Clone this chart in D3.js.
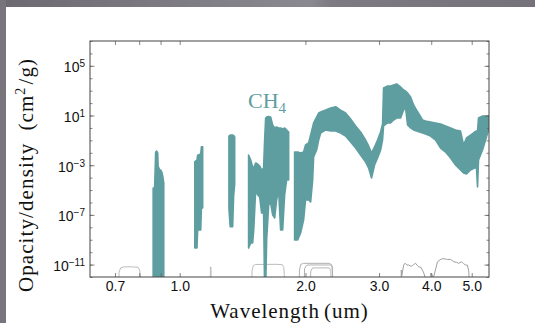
<!DOCTYPE html>
<html>
<head>
<meta charset="utf-8">
<script src="https://cdn.jsdelivr.net/npm/d3@7/dist/d3.min.js"></script>
<style>
  html, body { margin: 0; padding: 0; background: #fff; }
  svg { display: block; }
</style>
</head>
<body>
<svg id="chart" width="535" height="323"></svg>
<script>
// CH4 opacity band: wavelength (um) with upper / lower envelope of log10(opacity, cm^2/g).
// null entries split the spectrum into separate pieces.
const wavelength = [
  0.864, 0.871, 0.876, 0.881, 0.886, 0.888, 0.896, 0.901, 0.906, 0.911, 0.916,
  null,
  1.087, 1.100, 1.104, 1.123, 1.127, 1.135,
  null,
  1.312, 1.321, 1.339, 1.346, 1.354,
  null,
  1.462, 1.479, 1.495, 1.504, 1.520, 1.537, 1.554, 1.571, 1.588, 1.597, 1.606, 1.615,
  1.633, 1.651, 1.669, 1.688, 1.706, 1.725, 1.744, 1.764, 1.783, 1.803, 1.823,
  null,
  1.884, 1.916, 1.947, 1.980, 2.001, 2.035, 2.058, 2.081, 2.092, 2.127, 2.151, 2.175,
  2.236, 2.298, 2.362, 2.428, 2.495, 2.565, 2.637, 2.710, 2.786, 2.833, 2.879, 2.927,
  2.976, 3.026, 3.059, 3.076, 3.145, 3.197, 3.251, 3.305, 3.379, 3.435, 3.473, 3.511,
  3.570, 3.630, 3.690, 3.751, 3.813, 3.877, 3.985, 4.098, 4.212, 4.329, 4.450, 4.574,
  4.701, 4.780, 4.859, 4.968, 5.080, 5.134, 5.163, 5.191, 5.307, 5.396, 5.486, 5.580
];
const logOpacityHigh = [
  -4.84, -4.84, -1.94, -1.86, -2.02, -3.10, -3.39, -3.39, -3.55, -3.90, -4.43,
  null,
  -2.72, -2.60, -2.20, -2.10, -1.51, -1.51,
  null,
  -0.65, -0.57, -0.57, -0.60, -0.73,
  null,
  -2.18, -2.58, -3.14, -3.23, -2.82, -2.90, -3.06, -3.39, -3.23, -0.97, 0.80, 0.88,
  0.91, 0.88, 0.24, 0.00, 0.08, 0.00, 0.00, -0.08, 0.00, -0.16, -0.33,
  null,
  -1.94, -1.94, -2.02, -1.94, -1.37, -1.21, -0.57, 0.08, 0.40, 0.88, 1.20, 1.28,
  1.44, 1.61, 1.71, 1.44, 1.20, 0.72, 0.16, -0.33, -0.97, -1.45, -2.02, -1.53,
  -0.97, -0.33, 0.32, 3.22, 3.38, 3.38, 3.46, 3.54, 3.30, 3.05, 2.97, 2.81,
  2.49, 1.85, 1.44, 1.04, 0.64, 0.56, 0.48, 0.40, 0.32, 0.16, 0.00, -0.16,
  -0.25, -1.37, -0.81, -0.57, -0.33, -0.25, -0.25, 0.80, 0.96, 0.96, 0.96, 0.96
];
const logOpacityLow = [
  -13, -13, -13, -13, -13, -13, -13, -13, -13, -13, -13,
  null,
  -9.67, -9.67, -8.22, -8.22, -6.45, -6.45,
  null,
  -6.50, -7.95, -7.95, -5.50, -4.50,
  null,
  -9.67, -9.26, -9.26, -8.22, -5.00, -5.40, -5.56, -6.85, -6.85, -13, -13, -9.00,
  -6.20, -6.04, -7.00, -7.25, -5.80, -5.00, -8.22, -8.22, -5.40, -4.19, -4.19,
  null,
  -9.02, -9.02, -8.46, -7.40, -5.80, -5.80, -5.96, -4.19, -2.34, -1.78, -0.97, -0.41,
  -0.16, -0.25, -0.25, -0.41, -0.65, -1.13, -1.62, -2.18, -2.74, -3.23, -4.03, -2.98,
  -2.42, -1.78, -0.97, 0.16, 0.40, 0.40, 0.64, 0.80, 0.80, 1.44, 1.61, 0.24,
  0.00, -0.16, -0.25, -0.33, -0.41, -0.49, -0.65, -0.97, -1.62, -1.94, -2.42, -2.98,
  -3.39, -3.63, -3.71, -3.39, -3.23, -3.23, -4.76, -2.58, -1.78, -0.97, -0.16, -0.16
];

// Photometric filter transmission curves: [wavelength (um), transmission]
const filterR  = [[0.712,0.001],[0.716,0.08],[0.722,0.18],[0.735,0.22],[0.770,0.22],[0.795,0.20],[0.802,0.12],[0.806,0.04],[0.808,0.001]];
const filterNB = [[1.182,0.001],[1.185,0.22],[1.188,0.20],[1.191,0.001]];
const filterH  = [[1.485,0.001],[1.490,0.10],[1.500,0.28],[1.520,0.34],[1.700,0.35],[1.760,0.33],[1.775,0.20],[1.780,0.05],[1.785,0.001]];
const filterK  = [[1.930,0.001],[1.935,0.12],[1.950,0.35],[1.980,0.42],[2.280,0.42],[2.310,0.33],[2.320,0.12],[2.325,0.001]];
const filterKs = [[1.985,0.001],[1.990,0.15],[2.010,0.28],[2.030,0.31],[2.300,0.31],[2.320,0.22],[2.330,0.001]];
const filterKp = [[2.050,0.001],[2.060,0.10],[2.080,0.18],[2.280,0.18],[2.300,0.12],[2.310,0.001]];
const filterL  = [[3.385,0.001],[3.392,0.12],[3.400,0.04],[3.440,0.35],[3.470,0.42],[3.500,0.30],[3.530,0.31],[3.570,0.25],[3.610,0.27],[3.640,0.36],[3.670,0.42],[3.700,0.30],[3.730,0.22],[3.780,0.20],[3.810,0.12],[3.840,0.07],[3.870,0.03],[3.880,0.001]];
const filterM  = [[3.980,0.001],[3.990,0.07],[4.050,0.03],[4.100,0.15],[4.140,0.56],[4.200,0.80],[4.250,1.00],[4.330,0.93],[4.380,0.85],[4.450,0.88],[4.530,0.56],[4.600,0.50],[4.650,0.42],[4.730,0.56],[4.780,0.40],[4.830,0.31],[4.880,0.31],[4.920,0.10],[4.950,0.001]];
const filterScale = 3e-11;   // transmission of 1 is drawn at this opacity level

// Axis ticks
const xTickValues = [0.7, 0.8, 0.9, 1, 2, 3, 4, 5];
const xTickLabels = ["0.7", "", "", "1.0", "2.0", "3.0", "4.0", "5.0"];
const yMajorExponents = [5, 1, -3, -7, -11];
const yMinorExponents = d3.range(-12, 8);

const W = 535, H = 323;
const plot = { left: 90, right: 489, top: 41, bottom: 277 };
const teal = "#5f9ea0";

const svg = d3.select("#chart");

// window frame around the figure
const defs = svg.append("defs");
const grad = defs.append("linearGradient").attr("id", "frameTop")
  .attr("x1", "0%").attr("x2", "100%");
grad.append("stop").attr("offset", "0%").attr("stop-color", "#6c6a70");
grad.append("stop").attr("offset", "58%").attr("stop-color", "#8b8990");
grad.append("stop").attr("offset", "62%").attr("stop-color", "#7d7b81");
grad.append("stop").attr("offset", "100%").attr("stop-color", "#757379");
svg.append("rect").attr("x", 0).attr("y", 0).attr("width", W).attr("height", H).attr("fill", "#fff");
svg.append("rect").attr("x", 0).attr("y", 0).attr("width", W).attr("height", 7).attr("fill", "url(#frameTop)");
svg.append("rect").attr("x", 0).attr("y", 0).attr("width", 6).attr("height", H).attr("fill", "#77757b");

defs.append("clipPath").attr("id", "plotClip")
  .append("rect")
  .attr("x", plot.left).attr("y", plot.top)
  .attr("width", plot.right - plot.left).attr("height", plot.bottom - plot.top);

const x = d3.scaleLog().domain([0.61, 5.5]).range([plot.left, plot.right]);
const y = d3.scaleLog().domain([1e-12, 1e7]).range([plot.bottom, plot.top]);

const g = svg.append("g").attr("clip-path", "url(#plotClip)");

// filter curves
const filters = [
  { data: filterR,  color: "#bdbdbd" },
  { data: filterNB, color: "#bdbdbd" },
  { data: filterH,  color: "#bdbdbd" },
  { data: filterK,  color: "#b0b0b0" },
  { data: filterKs, color: "#b0b0b0" },
  { data: filterKp, color: "#b8b8b8" },
  { data: filterL,  color: "#a0a0a0" },
  { data: filterM,  color: "#a0a0a0" }
];
const filterLine = d3.line()
  .x(d => x(d[0]))
  .y(d => y(d[1] * filterScale));
g.selectAll("path.filter").data(filters).join("path")
  .attr("class", "filter")
  .attr("d", f => filterLine(f.data))
  .attr("fill", "none")
  .attr("stroke", f => f.color)
  .attr("stroke-width", 1);

// CH4 opacity band
const rows = wavelength.map((w, i) => ({ w, hi: logOpacityHigh[i], lo: logOpacityLow[i] }));
const band = d3.area()
  .defined(d => d.w !== null)
  .x(d => x(d.w))
  .y0(d => y(Math.pow(10, d.lo)))
  .y1(d => y(Math.pow(10, d.hi)));
g.append("path")
  .attr("d", band(rows))
  .attr("fill", teal)
  .attr("stroke", teal)
  .attr("stroke-width", 1.6)
  .attr("stroke-linejoin", "round");

// axes: ticks point inward on all four sides
const axisColor = "#444";
const xb = svg.append("g").attr("transform", `translate(0,${plot.bottom})`)
  .call(d3.axisBottom(x).tickValues(xTickValues).tickFormat((d, i) => xTickLabels[i])
    .tickSizeInner(-4).tickSizeOuter(0).tickPadding(4));
const xt = svg.append("g").attr("transform", `translate(0,${plot.top})`)
  .call(d3.axisTop(x).tickValues(xTickValues).tickFormat("")
    .tickSizeInner(-4).tickSizeOuter(0));
const yl = svg.append("g").attr("transform", `translate(${plot.left},0)`)
  .call(d3.axisLeft(y).tickValues(yMinorExponents.map(e => Math.pow(10, e))).tickFormat("")
    .tickSizeInner(-2.5).tickSizeOuter(0));
const yr = svg.append("g").attr("transform", `translate(${plot.right},0)`)
  .call(d3.axisRight(y).tickValues(yMinorExponents.map(e => Math.pow(10, e))).tickFormat("")
    .tickSizeInner(-2.5).tickSizeOuter(0));
const ylM = svg.append("g").attr("transform", `translate(${plot.left},0)`)
  .call(d3.axisLeft(y).tickValues(yMajorExponents.map(e => Math.pow(10, e))).tickFormat("")
    .tickSizeInner(-4.5).tickSizeOuter(0));
const yrM = svg.append("g").attr("transform", `translate(${plot.right},0)`)
  .call(d3.axisRight(y).tickValues(yMajorExponents.map(e => Math.pow(10, e))).tickFormat("")
    .tickSizeInner(-4.5).tickSizeOuter(0));

[xb, xt, yl, yr, ylM, yrM].forEach(a => {
  a.select(".domain").remove();
  a.selectAll(".tick line").attr("stroke", "#666").attr("stroke-width", 0.8);
});
xb.selectAll(".tick text")
  .attr("font-family", "'Liberation Sans', Arial, sans-serif")
  .attr("font-size", 14).attr("fill", "#111");

// y tick labels as powers of ten
const yLabels = svg.append("g")
  .attr("font-family", "'Liberation Sans', Arial, sans-serif")
  .attr("fill", "#111");
yMajorExponents.forEach(e => {
  const t = yLabels.append("text")
    .attr("x", plot.left - 5)
    .attr("y", y(Math.pow(10, e)))
    .attr("dy", "0.45em")
    .attr("text-anchor", "end")
    .attr("font-size", 14);
  t.append("tspan").text("10");
  t.append("tspan").attr("dy", "-0.5em").attr("font-size", 10)
    .text(e < 0 ? "\u2212" + Math.abs(e) : String(e));
});

// plot frame
svg.append("rect")
  .attr("x", plot.left).attr("y", plot.top)
  .attr("width", plot.right - plot.left).attr("height", plot.bottom - plot.top)
  .attr("fill", "none").attr("stroke", axisColor).attr("stroke-width", 1);

// axis titles
const serif = "'Liberation Serif', 'Times New Roman', serif";
const xt2 = svg.append("text")
  .attr("x", (plot.left + plot.right) / 2).attr("y", 318)
  .attr("text-anchor", "middle")
  .attr("font-family", serif).attr("font-size", 21).attr("fill", "#111")
  .attr("letter-spacing", 1);
xt2.append("tspan").text("Wavelength");
xt2.append("tspan").attr("dx", 4).text("(um)");

const yt = svg.append("text")
  .attr("transform", "translate(33,175) rotate(-90)")
  .attr("text-anchor", "middle")
  .attr("font-family", serif).attr("font-size", 21).attr("fill", "#111")
  .attr("letter-spacing", 1.1);
yt.append("tspan").text("Opacity/density");
yt.append("tspan").attr("dx", 12).text("(cm");
yt.append("tspan").attr("dy", -8).attr("font-size", 14).text("2");
yt.append("tspan").attr("dy", 8).attr("dx", 2).text("/g)");

// species label
const lab = svg.append("text")
  .attr("x", 248).attr("y", 108)
  .attr("font-family", serif).attr("font-size", 22).attr("fill", teal);
lab.append("tspan").text("CH");
lab.append("tspan").attr("dy", 5).attr("font-size", 15).text("4");
</script>
</body>
</html>
